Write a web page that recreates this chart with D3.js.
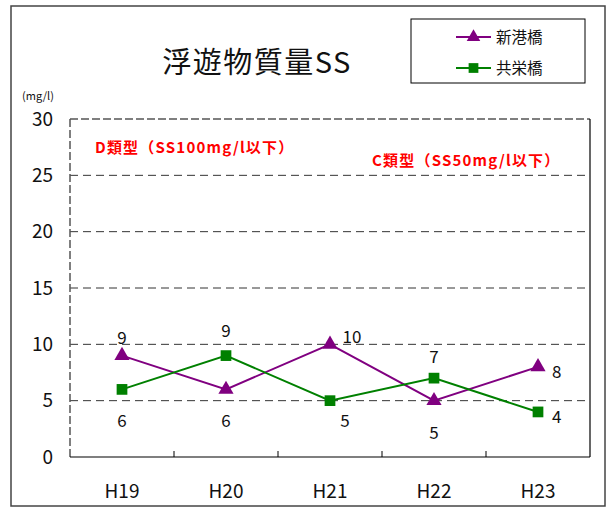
<!DOCTYPE html>
<html>
<head>
<meta charset="utf-8">
<script src="https://cdn.jsdelivr.net/npm/d3@7"></script>
<style>
  body { margin: 0; background: #fff; }
  text { font-family: "Noto Sans CJK JP", "Liberation Sans", sans-serif; }
</style>
</head>
<body>
<svg id="chart" width="607" height="509"></svg>
<script>
// data
var years = ["H19", "H20", "H21", "H22", "H23"];
var shinko = [9, 6, 10, 5, 8];      // 新港橋
var kyoei = [6, 9, 5, 7, 4];        // 共栄橋
var yTicks = [0, 5, 10, 15, 20, 25, 30];
var seriesNames = ["新港橋", "共栄橋"];
var standardNotes = ["D類型（SS100mg/l以下）", "C類型（SS50mg/l以下）"];

var svg = d3.select("#chart");
var margin = {left: 70, top: 119};

// outer frame
svg.append("rect").attr("x", 11).attr("y", 6).attr("width", 594).attr("height", 500)
    .attr("fill", "none").attr("stroke", "#444").attr("stroke-width", 1.5);

var g = svg.append("g").attr("transform", "translate(" + margin.left + "," + margin.top + ")");

var x = d3.scaleBand().domain(years).range([0, 520]);
var y = d3.scaleLinear().domain([0, 30]).range([338, 0]);

// dashed gridlines
g.selectAll("line.grid")
    .data(yTicks.filter(function(d) { return d > 0 && d < 30; }))
    .enter().append("line")
    .attr("class", "grid")
    .attr("x1", 0).attr("x2", 520)
    .attr("y1", function(d) { return y(d); })
    .attr("y2", function(d) { return y(d); })
    .attr("stroke", "#333").attr("stroke-width", 1)
    .attr("stroke-dasharray", "8,5");

// plot frame: top / left dashed grey, right / bottom solid
g.append("line").attr("x1", 0).attr("x2", 520).attr("y1", y(30)).attr("y2", y(30))
    .attr("stroke", "#555").attr("stroke-width", 1.5).attr("stroke-dasharray", "8,3");
g.append("line").attr("x1", 0).attr("x2", 0).attr("y1", y(30)).attr("y2", y(0))
    .attr("stroke", "#555").attr("stroke-width", 1.5).attr("stroke-dasharray", "8,3");
g.append("line").attr("x1", 520).attr("x2", 520).attr("y1", y(30)).attr("y2", y(0))
    .attr("stroke", "#000").attr("stroke-width", 1.2);
g.append("line").attr("x1", 0).attr("x2", 520).attr("y1", y(0)).attr("y2", y(0))
    .attr("stroke", "#000").attr("stroke-width", 1.2);

// y axis labels
var yAxis = d3.axisLeft(y).tickValues(yTicks).tickSize(0).tickPadding(17);
var ya = g.append("g").call(yAxis);
ya.select(".domain").remove();
ya.selectAll("text").attr("font-size", 19).attr("fill", "#111")
    .style("font-family", "'Noto Sans CJK JP', sans-serif");

// x axis: ticks between categories, pointing inward
var bounds = years.slice(1).map(function(d) { return x(d); });
g.selectAll("line.xtick").data(bounds).enter().append("line")
    .attr("x1", function(d) { return d; }).attr("x2", function(d) { return d; })
    .attr("y1", y(0)).attr("y2", y(0) - 6)
    .attr("stroke", "#000").attr("stroke-width", 1);
g.selectAll("text.xlab").data(years).enter().append("text")
    .attr("x", function(d) { return x(d) + x.bandwidth() / 2; })
    .attr("y", y(0) + 41)
    .attr("text-anchor", "middle").attr("font-size", 19).attr("fill", "#111")
    .text(function(d) { return d; });

// unit
svg.append("text").attr("x", 22).attr("y", 100).attr("font-size", 11).attr("fill", "#111").text("(mg/l)");

// title
svg.append("text").attr("x", 257).attr("y", 73).attr("text-anchor", "middle")
    .attr("font-size", 29).attr("letter-spacing", 1.5).attr("fill", "#111").text("浮遊物質量SS");

// red standard notes
g.append("text").attr("x", 25).attr("y", y(27.5) + 6).attr("font-size", 15).attr("font-weight", "bold")
    .attr("letter-spacing", 1.2).attr("fill", "#ff0000").text(standardNotes[0]);
g.append("text").attr("x", 302).attr("y", y(26.4) + 6).attr("font-size", 15).attr("font-weight", "bold")
    .attr("letter-spacing", 1.2).attr("fill", "#ff0000").text(standardNotes[1]);

var cx = function(i) { return x(years[i]) + x.bandwidth() / 2; };
var line = d3.line().x(function(d, i) { return cx(i); }).y(function(d) { return y(d); });

var series = [
    {name: seriesNames[0], values: shinko, color: "#800080", shape: d3.symbolTriangle, size: 100},
    {name: seriesNames[1], values: kyoei, color: "#008000", shape: d3.symbolSquare, size: 115}
];

series.forEach(function(s) {
    g.append("path").datum(s.values).attr("d", line)
        .attr("fill", "none").attr("stroke", s.color).attr("stroke-width", 2);
    g.selectAll(null).data(s.values).enter().append("path")
        .attr("d", d3.symbol().type(s.shape).size(s.size))
        .attr("transform", function(d, i) { return "translate(" + cx(i) + "," + y(d) + ")"; })
        .attr("fill", s.color);
});

// data labels: higher value above, lower below, last category to the right
years.forEach(function(yr, i) {
    [shinko[i], kyoei[i]].forEach(function(v, k) {
        var other = k === 0 ? kyoei[i] : shinko[i];
        var high = v > other;
        var tx = cx(i), ty = high ? y(v) - 12 : y(v) + 38;
        var anchor = "middle";
        if (i === 1 && high) ty = y(v) - 19;
        if (i === 2) { tx = cx(i) + (high ? 22 : 15); ty = high ? y(v) - 1 : y(v) + 26; }
        if (i === 3 && high) ty = y(v) - 15;
        if (i === years.length - 1) { tx = cx(i) + 14; ty = y(v) + 11; anchor = "start"; }
        g.append("text").attr("x", tx).attr("y", ty).attr("text-anchor", anchor)
            .attr("font-size", 17).attr("fill", "#111").text(v);
    });
});

// legend
var lg = svg.append("g").attr("transform", "translate(411,19)");
lg.append("rect").attr("width", 174).attr("height", 64)
    .attr("fill", "#fff").attr("stroke", "#000").attr("stroke-width", 1);
series.forEach(function(s, i) {
    var ly = 18 + i * 31;
    lg.append("line").attr("x1", 45).attr("x2", 80).attr("y1", ly).attr("y2", ly)
        .attr("stroke", s.color).attr("stroke-width", 2);
    lg.append("path").attr("d", d3.symbol().type(s.shape).size(s.size - 20))
        .attr("transform", "translate(62.5," + ly + ")").attr("fill", s.color);
    lg.append("text").attr("x", 85).attr("y", ly + 6).attr("font-size", 15.5)
        .attr("fill", "#111").text(s.name);
});
</script>
</body>
</html>
